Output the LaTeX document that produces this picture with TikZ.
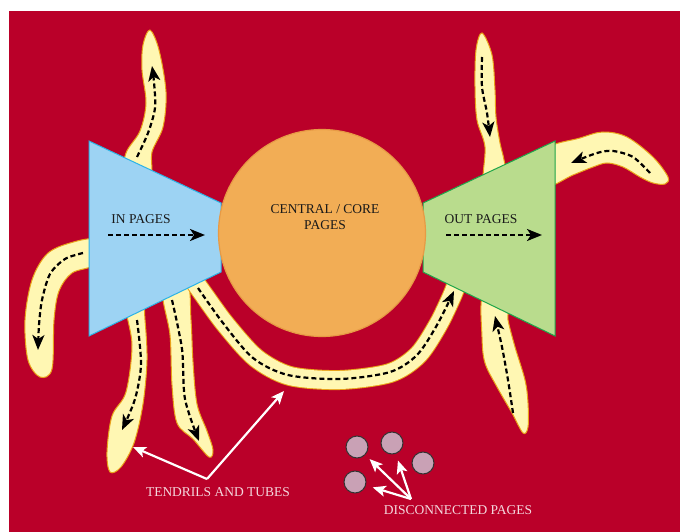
\documentclass[tikz,border=0pt]{standalone}
\usepackage{fontspec}
\setmainfont{Liberation Serif}
\usepackage{xcolor}
\definecolor{Crimson}{HTML}{BA0029}
\definecolor{Sky}{HTML}{9DD3F3}
\definecolor{SkyEdge}{HTML}{2BB3E6}
\definecolor{Leaf}{HTML}{B9DC8D}
\definecolor{LeafEdge}{HTML}{1FA64A}
\definecolor{Core}{HTML}{F2AD55}
\definecolor{CoreEdge}{HTML}{E79A45}
\definecolor{Cream}{HTML}{FFF7B3}
\definecolor{CreamEdge}{HTML}{E9A21A}
\definecolor{Mauve}{HTML}{C9A1B5}
\definecolor{Blush}{HTML}{F4D7DD}
\usepackage{tikz}
\usetikzlibrary{arrows.meta}

\begin{document}
\begin{tikzpicture}[x=1pt,y=-1pt,
  every node/.style={font=\fontsize{13.5}{16}\selectfont,align=center,text=black!90},
  tendril/.style={fill=Cream,draw=CreamEdge,line width=1pt},
  tube/.style={draw=CreamEdge,double=Cream,double distance=18pt,line width=1pt},
  flow/.style={draw=black,line width=2.2pt,dash pattern=on 5pt off 3pt,
    -{Stealth[length=15pt,width=12pt,inset=4pt]}},
  callout/.style={draw=white,line width=2.2pt,-{Stealth[length=13pt,width=11pt,inset=3pt]}},
  caption/.style={text=Blush},
  lonely/.style={circle,minimum size=22pt,inner sep=0pt,fill=Mauve,draw=black!80,line width=1pt}
]
\useasboundingbox (0,0) rectangle (680,532);
\fill[white] (0,0) rectangle (680,532);
\fill[Crimson] (9,11) rectangle (680,532);

\draw[tendril] plot[smooth cycle,tension=0.55] coordinates {(150,30) (159,50) (166,92) (163,127) (152,152) (150,178) (124,178) (126,153) (140,131) (146,103) (142,70) (143,45)};
\draw[flow] plot[smooth] coordinates {(137,157) (148,133) (155,108) (154,82) (152,66)};
\draw[tendril] plot[smooth cycle,tension=0.55] coordinates {(95,240) (70,243) (47,254) (32,280) (25,320) (28,360) (40,377) (52,369) (54,320) (59,291) (72,273) (95,264)};
\draw[flow] plot[smooth] coordinates {(83,253) (65,259) (50,274) (42,300) (39,325) (38,350)};
\draw[tendril] plot[smooth cycle,tension=0.55] coordinates {(126,305) (132,345) (126,392) (112,416) (107,452) (110,472) (121,467) (134,443) (143,404) (147,360) (145,320) (142,300)};
\draw[flow] plot[smooth] coordinates {(137,320) (141,364) (135,399) (122,430)};
\draw[tendril] plot[smooth cycle,tension=0.55] coordinates {(163,290) (170,335) (172,385) (177,423) (193,439) (209,457) (213,450) (207,431) (197,404) (193,362) (191,320) (187,282)};
\draw[flow] plot[smooth] coordinates {(172,300) (182,349) (185,399) (199,441)};
\draw[tendril] plot[smooth cycle,tension=0.55] coordinates {(482,33) (492,55) (495,90) (496,117) (500,143) (504,160) (506,180) (484,185) (485,147) (477,120) (475,87) (476,50)};
\draw[flow] plot[smooth] coordinates {(482,57) (482,87) (487,113) (490,137)};
\draw[tendril] plot[smooth cycle,tension=0.55] coordinates {(545,150) (580,138) (603,132) (627,137) (653,157) (668,177) (665,184) (653,183) (640,177) (623,167) (607,163) (593,167) (573,175) (545,186)};
\draw[flow] plot[smooth] coordinates {(650,173) (633,157) (613,151) (597,153) (571,163)};
\draw[tendril] plot[smooth cycle,tension=0.55] coordinates {(483,295) (482,337) (485,363) (497,387) (512,413) (523,433) (528,427) (528,403) (525,380) (515,347) (508,320) (507,305)};
\draw[flow] plot[smooth] coordinates {(513,413) (508,380) (502,347) (495,316)};
\draw[tube] plot[smooth] coordinates {(192,278) (204,295) (226,325) (256,358) (290,376) (340,380) (390,373) (418,355) (438,325) (452,296) (458,280)};
\draw[flow] plot[smooth] coordinates {(198,288) (223,323) (253,358) (288,375) (340,379) (390,372) (417,355) (437,325) (454,291)};

\filldraw[fill=Sky,draw=SkyEdge,line width=1pt] (89,141) -- (221,203) -- (221,272) -- (89,336) -- cycle;
\filldraw[fill=Leaf,draw=LeafEdge,line width=1pt] (423,203) -- (555,141) -- (555,336) -- (423,272) -- cycle;
\node[circle,fill=Core,draw=CoreEdge,line width=1.2pt,minimum size=207pt,inner sep=0pt] (core) at (322,233) {};

\node (inlbl) at (141,219) {IN PAGES};
\node (corelbl) at (325,217) {CENTRAL / CORE\\PAGES};
\node (outlbl) at (481,219) {OUT PAGES};
\draw[flow] (108,235) -- (205,235);
\draw[flow] (446,235) -- (542,235);

\node[caption] (tendlbl) at (218,492) {TENDRILS AND TUBES};
\coordinate (tfork) at (207,479);
\coordinate (tendtip) at (133,447);
\coordinate (tubetip) at (284,391);
\draw[callout] (tfork) -- (tendtip);
\draw[callout] (tfork) -- (tubetip);

\node[lonely] (pg1) at (357,447) {};
\node[lonely] (pg2) at (392,443) {};
\node[lonely] (pg3) at (423,463) {};
\node[lonely] (pg4) at (355,482) {};
\node[caption] (disclbl) at (458,510) {DISCONNECTED PAGES};
\coordinate (dfork) at (411,499);
\draw[callout,shorten >=6pt] (dfork) -- (pg1);
\draw[callout,shorten >=7pt] (dfork) -- (pg2);
\draw[callout,shorten >=7pt] (dfork) -- (pg4);
\end{tikzpicture}
\end{document}
